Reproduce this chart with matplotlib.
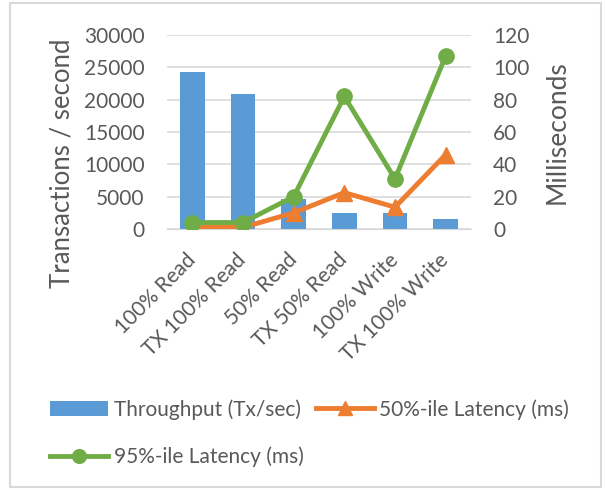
import matplotlib
matplotlib.use('Agg')
import matplotlib.pyplot as plt
from matplotlib.patches import Rectangle

# workloads and measurements
categories = ['100% Read', 'TX 100% Read', '50% Read', 'TX 50% Read', '100% Write', 'TX 100% Write']
throughput = [24300, 20900, 4600, 2500, 2500, 1500]
lat50 = [1, 1, 10, 22.5, 13.5, 46]
lat95 = [4, 4, 20, 82, 31, 107]

BLUE = '#5b9bd5'
ORANGE = '#ed7d31'
GREEN = '#70ad47'
TEXT = '#595959'
GRID = '#d9d9d9'

plt.rcParams['font.family'] = ['Lato', 'DejaVu Sans']

fig = plt.figure(figsize=(6.05, 4.9), dpi=100)
# plot area in pixels: x 167..471, y 35..229
ax = fig.add_axes([167/605, 1 - 229/490, 304/605, 194/490])
ax2 = ax.twinx()

x = list(range(len(categories)))
bars = ax.bar(x, throughput, width=0.49, color=BLUE, zorder=2)

l50, = ax2.plot(x, lat50, color=ORANGE, lw=3.5, marker='^', ms=11, zorder=3)
l95, = ax2.plot(x, lat95, color=GREEN, lw=3.5, marker='o', ms=11, zorder=4)

ax.set_xlim(-0.5, len(categories) - 0.5)
ax.set_ylim(0, 30000)
ax2.set_ylim(0, 120)
ax.set_yticks(range(0, 30001, 5000))
ax2.set_yticks(range(0, 121, 20))

ax.yaxis.grid(True, color=GRID, lw=1.2, zorder=0)
ax.set_axisbelow(True)
for a in (ax, ax2):
    for s in a.spines.values():
        s.set_visible(False)
    a.tick_params(length=0, labelsize=15, labelcolor=TEXT, pad=16)
ax.spines['bottom'].set_visible(True)
ax.spines['bottom'].set_color(GRID)

ax.set_xticks(x)
ax.set_xticklabels(categories, rotation=45, ha='right', va='center', rotation_mode='anchor')
ax.tick_params(axis='x', pad=20)

# axis titles
fig.text(62/605, 1 - 163/490, 'Transactions / second', rotation=90, ha='center', va='center',
         fontsize=18.5, color=TEXT)
fig.text(557/605, 1 - 132/490, 'Milliseconds', rotation=90, ha='center', va='center',
         fontsize=19, color=TEXT)

fig.legend([bars, l95, l50],
           ['Throughput (Tx/sec)', '95%-ile Latency (ms)', '50%-ile Latency (ms)'],
           ncol=2, loc='upper left', bbox_to_anchor=(50/605, 1 - 399/490),
           frameon=False, fontsize=15, labelcolor=TEXT, borderpad=0, borderaxespad=0,
           handlelength=2.8, handletextpad=0.25, columnspacing=0.6,
           labelspacing=1.3, markerscale=0.9)

# chart border
fig.patches.append(Rectangle((10/605, 3/490), 591/605, 484/490, transform=fig.transFigure,
                             fill=False, edgecolor=GRID, lw=1.5))

fig.savefig('out.png', dpi=100, facecolor='white')
